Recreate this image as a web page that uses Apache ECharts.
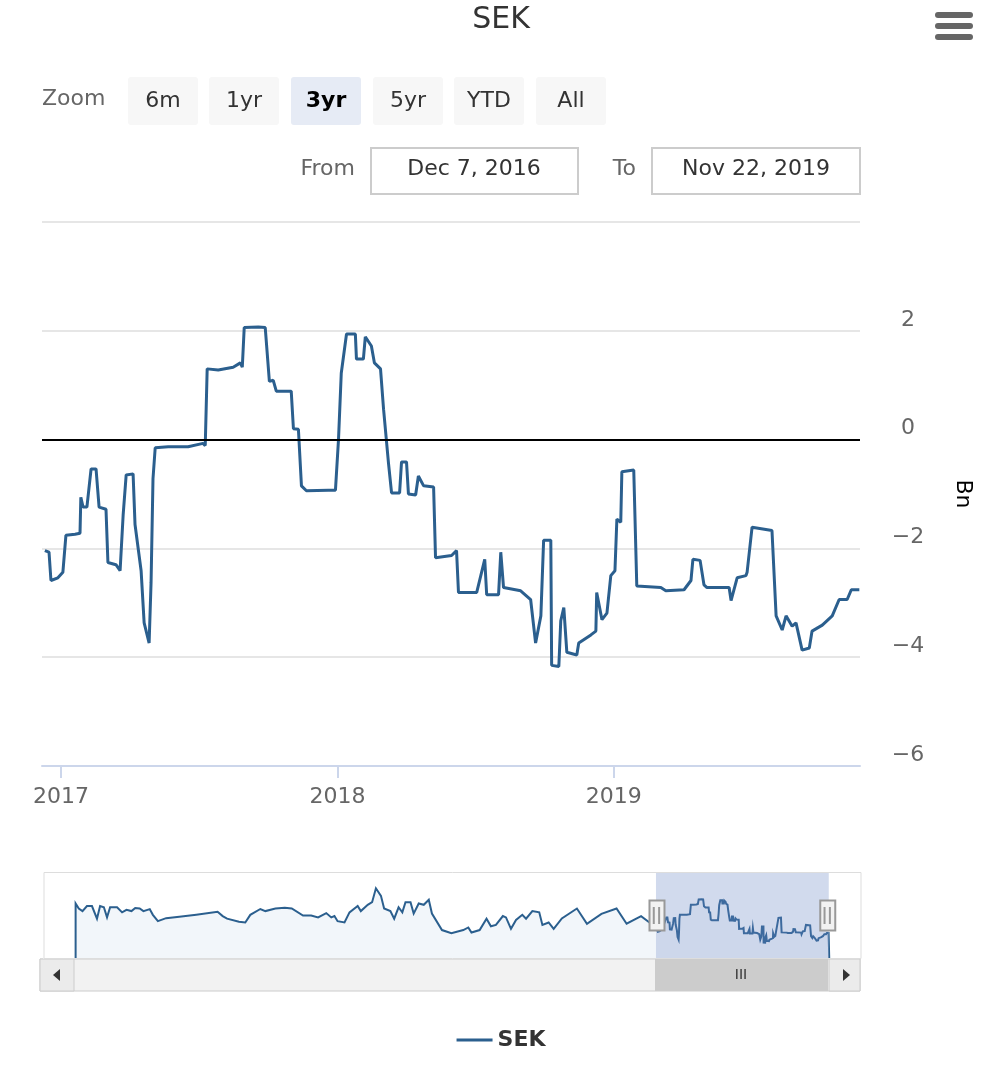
<!DOCTYPE html>
<html>
<head>
<meta charset="UTF-8">
<title>SEK</title>
<script src="https://cdn.jsdelivr.net/npm/echarts@6/dist/echarts.min.js"></script>
<style>
  html, body { margin: 0; padding: 0; background: #fff; }
  #chart { width: 1002px; height: 1072px; }
</style>
</head>
<body>
<div id="chart"></div>
<script>
// earlier history, only seen in the navigator (decimal years)
const histYears = [2007.000, 2007.054, 2007.118, 2007.194, 2007.280, 2007.366, 2007.419, 2007.484, 2007.538, 2007.591,
  2007.710, 2007.796, 2007.871, 2007.957, 2008.021, 2008.097, 2008.161, 2008.269, 2008.322, 2008.408,
  2008.548, 2008.774, 2009.064, 2009.429, 2009.516, 2009.591, 2009.795, 2009.903, 2009.989, 2010.161,
  2010.247, 2010.419, 2010.580, 2010.699, 2010.892, 2011.032, 2011.150, 2011.290, 2011.376, 2011.430,
  2011.484, 2011.602, 2011.688, 2011.828, 2011.882, 2012.000, 2012.075, 2012.140, 2012.226, 2012.280,
  2012.387, 2012.452, 2012.527, 2012.591, 2012.645, 2012.731, 2012.785, 2012.871, 2012.957, 2013.043,
  2013.097, 2013.269, 2013.430, 2013.634, 2013.720, 2013.774, 2013.914, 2014.032, 2014.107, 2014.193,
  2014.312, 2014.365, 2014.451, 2014.537, 2014.645, 2014.709, 2014.817, 2014.935, 2014.989, 2015.096,
  2015.182, 2015.322, 2015.580, 2015.752, 2016.000, 2016.258, 2016.430, 2016.677, 2016.849];
const histValues = [1.48, 0.75, 0.38, 1.11, 1.11, -0.71, 1.11, 0.93, -0.53, 0.93,
  0.93, 0.20, 0.56, 0.38, 0.82, 0.75, 0.38, 0.66, -0.16, -1.07,
  -0.64, -0.45, -0.16, 0.27, -0.34, -0.71, -1.15, -1.26, -0.16, 0.68,
  0.38, 0.75, 0.86, 0.75, -0.27, -0.27, -0.53, 0.09, -0.53, -0.34,
  -1.07, -1.26, 0.20, 1.11, 0.38, 1.29, 1.66, 3.66, 2.57, 0.75,
  0.38, -0.71, 0.93, 0.20, 1.66, 1.66, 0.02, 1.48, 1.29, 2.02,
  0.02, -2.35, -2.82, -2.35, -1.98, -2.71, -2.35, -0.71, -1.80, -1.62,
  -0.34, -0.53, -2.17, -0.89, -0.16, -0.71, 0.38, 0.20, -1.62, -1.26,
  -2.17, -0.67, 0.75, -1.44, -0.02, 0.75, -1.44, -0.34, -1.44];

// visible 3yr window (decimal years, Bn)
const years = [2016.942, 2016.957, 2016.964, 2016.989, 2017.007, 2017.018, 2017.051, 2017.069, 2017.072, 2017.080,
  2017.094, 2017.109, 2017.127, 2017.138, 2017.163, 2017.170, 2017.199, 2017.214, 2017.225, 2017.236,
  2017.261, 2017.268, 2017.290, 2017.301, 2017.319, 2017.326, 2017.333, 2017.341, 2017.388, 2017.460,
  2017.514, 2017.522, 2017.529, 2017.569, 2017.623, 2017.649, 2017.656, 2017.663, 2017.714, 2017.739,
  2017.754, 2017.768, 2017.779, 2017.833, 2017.841, 2017.859, 2017.870, 2017.888, 2017.967, 2017.993,
  2018.004, 2018.014, 2018.033, 2018.065, 2018.069, 2018.094, 2018.101, 2018.123, 2018.134, 2018.156,
  2018.167, 2018.185, 2018.196, 2018.225, 2018.232, 2018.250, 2018.257, 2018.283, 2018.293, 2018.312,
  2018.348, 2018.355, 2018.413, 2018.431, 2018.438, 2018.504, 2018.533, 2018.540, 2018.583, 2018.591,
  2018.601, 2018.663, 2018.699, 2018.717, 2018.736, 2018.746, 2018.772, 2018.775, 2018.801, 2018.808,
  2018.819, 2018.830, 2018.866, 2018.873, 2018.917, 2018.935, 2018.938, 2018.957, 2018.975, 2018.989,
  2019.004, 2019.011, 2019.025, 2019.029, 2019.072, 2019.083, 2019.170, 2019.188, 2019.254, 2019.279,
  2019.286, 2019.312, 2019.326, 2019.337, 2019.417, 2019.424, 2019.446, 2019.478, 2019.482, 2019.500,
  2019.572, 2019.587, 2019.609, 2019.623, 2019.645, 2019.659, 2019.681, 2019.707, 2019.717, 2019.754,
  2019.790, 2019.815, 2019.844, 2019.859, 2019.888, 2019.899];
const values = [-2.04, -2.07, -2.59, -2.54, -2.44, -1.76, -1.74, -1.72, -1.06, -1.24,
  -1.24, -0.54, -0.54, -1.24, -1.28, -2.26, -2.30, -2.41, -1.39, -0.65,
  -0.63, -1.56, -2.41, -3.37, -3.74, -2.63, -0.72, -0.15, -0.13, -0.13,
  -0.07, -0.11, 1.30, 1.28, 1.33, 1.41, 1.33, 2.06, 2.07, 2.06,
  1.07, 1.09, 0.89, 0.89, 0.20, 0.19, -0.85, -0.94, -0.93, -0.93,
  0.00, 1.22, 1.94, 1.94, 1.48, 1.48, 1.89, 1.72, 1.41, 1.30,
  0.56, -0.44, -0.98, -0.98, -0.41, -0.41, -1.00, -1.02, -0.67, -0.85,
  -0.87, -2.17, -2.13, -2.04, -2.81, -2.81, -2.20, -2.85, -2.85, -2.07,
  -2.72, -2.78, -2.94, -3.74, -3.24, -1.85, -1.85, -4.15, -4.17, -3.33,
  -3.09, -3.91, -3.96, -3.74, -3.59, -3.52, -2.81, -3.31, -3.19, -2.50,
  -2.41, -1.46, -1.52, -0.59, -0.56, -2.69, -2.72, -2.78, -2.76, -2.59,
  -2.20, -2.22, -2.67, -2.72, -2.72, -2.96, -2.54, -2.50, -2.44, -1.61,
  -1.67, -3.24, -3.50, -3.24, -3.43, -3.37, -3.87, -3.83, -3.52, -3.41,
  -3.24, -2.94, -2.94, -2.76, -2.76, -2.85];

// empty padding the navigator keeps on both sides
const navigatorPad = [2006.45, 2020.45];

const zoomButtons = ['6m', '1yr', '3yr', '5yr', 'YTD', 'All'];
const fromLabel = 'Dec 7, 2016';
const toLabel = 'Nov 22, 2019';

function yearToTime(y) {
  const yr = Math.floor(y);
  const a = Date.UTC(yr, 0, 1), b = Date.UTC(yr + 1, 0, 1);
  return a + (y - yr) * (b - a);
}
const allYears = histYears.concat(years);
const allValues = histValues.concat(values);
const data = [[yearToTime(navigatorPad[0]), null]]
  .concat(allYears.map((y, i) => [yearToTime(y), allValues[i]]))
  .concat([[yearToTime(navigatorPad[1]), null]]);

const FONT = 'DejaVu Sans';
const chart = echarts.init(document.getElementById('chart'));

const graphics = [];
graphics.push({ type: 'text', left: 42, top: 88, style: { text: 'Zoom', font: '22px ' + FONT, fill: '#666' } });
const btnX = [128, 209, 291, 373, 454, 536];
zoomButtons.forEach((b, i) => {
  const active = b === '3yr';
  graphics.push({ type: 'rect', shape: { x: btnX[i], y: 77, width: 70, height: 48, r: 3 },
    style: { fill: active ? '#e6ebf5' : '#f7f7f7' } });
  graphics.push({ type: 'text', x: btnX[i] + 35, y: 101,
    style: { text: b, font: (active ? 'bold ' : '') + '22px ' + FONT, fill: active ? '#000' : '#333',
      align: 'center', verticalAlign: 'middle' } });
});
graphics.push({ type: 'text', x: 355, y: 169, style: { text: 'From', font: '22px ' + FONT, fill: '#666', align: 'right', verticalAlign: 'middle' } });
graphics.push({ type: 'rect', shape: { x: 371, y: 148, width: 207, height: 46 }, style: { fill: '#fff', stroke: '#ccc', lineWidth: 2 } });
graphics.push({ type: 'text', x: 474, y: 169, style: { text: fromLabel, font: '22px ' + FONT, fill: '#333', align: 'center', verticalAlign: 'middle' } });
graphics.push({ type: 'text', x: 636, y: 169, style: { text: 'To', font: '22px ' + FONT, fill: '#666', align: 'right', verticalAlign: 'middle' } });
graphics.push({ type: 'rect', shape: { x: 652, y: 148, width: 208, height: 46 }, style: { fill: '#fff', stroke: '#ccc', lineWidth: 2 } });
graphics.push({ type: 'text', x: 756, y: 169, style: { text: toLabel, font: '22px ' + FONT, fill: '#333', align: 'center', verticalAlign: 'middle' } });
// menu icon
[15, 26, 37].forEach(y => graphics.push({ type: 'rect', shape: { x: 935, y: y - 3, width: 38, height: 6, r: 3 }, style: { fill: '#666' } }));
// navigator year marker
graphics.push({ type: 'line', shape: { x1: 248, y1: 872, x2: 248, y2: 959 }, style: { stroke: '#e6e6e6', lineWidth: 1 }, z: 0 });
graphics.push({ type: 'text', x: 256, y: 942, style: { text: '2010', font: '20px ' + FONT, fill: '#999', verticalAlign: 'middle' }, z: 0 });
// scrollbar
graphics.push({ type: 'rect', shape: { x: 40, y: 959, width: 820, height: 32 }, style: { fill: '#f2f2f2', stroke: '#ccc' } });
graphics.push({ type: 'rect', shape: { x: 40, y: 959, width: 34, height: 32 }, style: { fill: '#ebebeb', stroke: '#ccc' } });
graphics.push({ type: 'rect', shape: { x: 829, y: 959, width: 31, height: 32 }, style: { fill: '#ebebeb', stroke: '#ccc' } });
graphics.push({ type: 'polygon', shape: { points: [[60, 969], [60, 981], [53, 975]] }, style: { fill: '#333' } });
graphics.push({ type: 'polygon', shape: { points: [[843, 969], [843, 981], [850, 975]] }, style: { fill: '#333' } });
graphics.push({ type: 'rect', shape: { x: 655, y: 959, width: 173, height: 32 }, style: { fill: '#cccccc' } });
graphics.push({ type: 'text', x: 741, y: 975, style: { text: 'III', font: '14px ' + FONT, fill: '#333', align: 'center', verticalAlign: 'middle' } });

chart.setOption({
  animation: false,
  textStyle: { fontFamily: FONT },
  title: { text: 'SEK', left: 'center', top: 0, textStyle: { fontSize: 30, fontWeight: 'normal', color: '#333', fontFamily: FONT } },
  grid: { left: 42, right: 142, top: 222, bottom: 306 },
  legend: {
    bottom: 16, left: 'center', icon: 'rect', itemWidth: 36, itemHeight: 3,
    textStyle: { fontSize: 22, fontWeight: 'bold', color: '#333' }, data: ['SEK']
  },
  xAxis: {
    type: 'time',
    minInterval: 365 * 86400000,
    axisLine: { onZero: false, lineStyle: { color: '#ccd6eb', width: 2 } },
    axisTick: { show: true, length: 12, lineStyle: { color: '#ccd6eb', width: 2 } },
    axisLabel: { formatter: '{yyyy}', fontSize: 22, color: '#666', margin: 20, hideOverlap: true },
    splitLine: { show: false }
  },
  yAxis: {
    type: 'value', position: 'right', min: -6, max: 4, interval: 2,
    name: 'Bn', nameLocation: 'middle', nameRotate: -90, nameGap: 92,
    nameTextStyle: { fontSize: 22, color: '#000' },
    axisLine: { show: false }, axisTick: { show: false },
    axisLabel: {
      fontSize: 22, color: '#666', margin: 48, align: 'center', verticalAlign: 'bottom',
      formatter: v => (v >= 4 ? '' : (v < 0 ? '\u2212' + Math.abs(v) : String(v)))
    },
    splitLine: { lineStyle: { color: '#e6e6e6', width: 2 } }
  },
  dataZoom: [{
    type: 'slider', xAxisIndex: 0, filterMode: 'filter',
    startValue: Date.UTC(2016, 11, 7), endValue: Date.UTC(2019, 10, 22),
    left: 42, right: 142, top: 872, height: 87,
    showDetail: false, brushSelect: false, moveHandleSize: 0,
    borderColor: '#ddd', backgroundColor: '#fff',
    fillerColor: 'rgba(102,133,194,0.3)',
    dataBackground: { lineStyle: { color: '#2b5f8e', width: 2, opacity: 1 }, areaStyle: { color: '#f2f6fa', opacity: 1 } },
    selectedDataBackground: { lineStyle: { color: '#2b5f8e', width: 2, opacity: 1 }, areaStyle: { color: '#f2f6fa', opacity: 0.4 } },
    handleIcon: 'path://M0,0 h14 v28 h-14 z M4,6 v16 M9,6 v16',
    handleSize: 30,
    handleStyle: { color: '#f2f2f2', borderColor: '#999', borderWidth: 2 }
  }],
  graphic: graphics,
  series: [{
    name: 'SEK', type: 'line', data: data, showSymbol: false, sampling: 'none',
    lineStyle: { color: '#2b5f8e', width: 3 }, itemStyle: { color: '#2b5f8e' },
    markLine: {
      silent: true, symbol: 'none', label: { show: false },
      lineStyle: { color: '#000', width: 2, type: 'solid' },
      data: [{ yAxis: 0 }]
    }
  }]
});
</script>
</body>
</html>
